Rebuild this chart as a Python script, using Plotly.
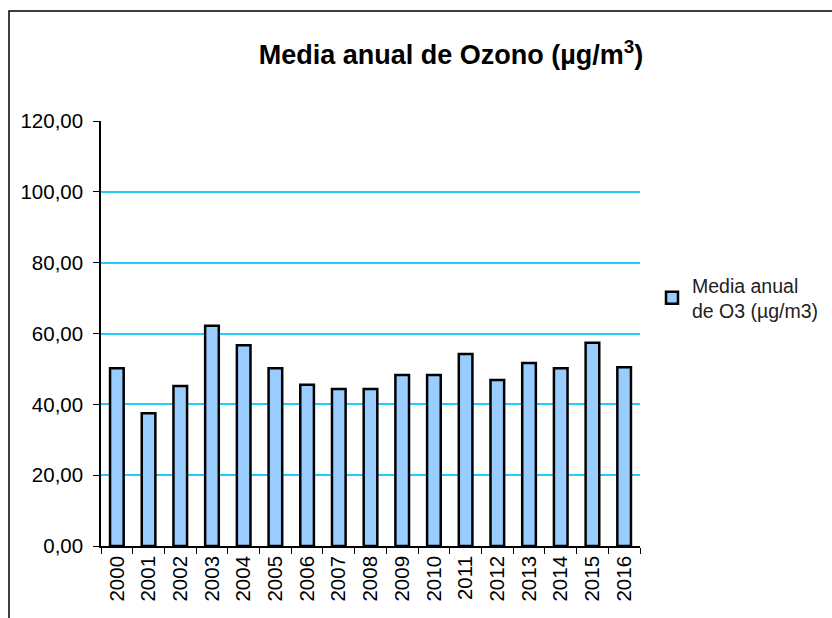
import plotly.graph_objects as go

years = ["2000", "2001", "2002", "2003", "2004", "2005", "2006", "2007", "2008",
         "2009", "2010", "2011", "2012", "2013", "2014", "2015", "2016"]
values = [50.2, 37.5, 45.2, 62.2, 56.7, 50.2, 45.5, 44.3, 44.3,
          48.3, 48.3, 54.2, 46.9, 51.7, 50.2, 57.4, 50.5]
series_name = "Media anual<br>de O3 (µg/m3)"
title_text = "<b>Media anual de Ozono (µg/m<sup>3</sup>)</b>"
y_ticks = [0, 20, 40, 60, 80, 100, 120]

W, H = 832, 618
L, R, T, B = 101, 640, 121, 546

fig = go.Figure()
fig.add_trace(go.Bar(
    x=years, y=values, name=series_name,
    marker=dict(color="#99CCFF", line=dict(color="black", width=2.5)),
    showlegend=True,
))

def px_x(p):
    return (p - L) / (R - L)

def px_y(p):
    return (B - p) / (B - T)

fig.update_layout(
    width=W, height=H,
    margin=dict(l=L, r=W - R, t=T, b=H - B, autoexpand=False),
    paper_bgcolor="white", plot_bgcolor="white",
    separators=",.",
    font=dict(family="Liberation Sans, Arial, sans-serif", color="black", size=20),
    title=dict(text=title_text, x=451 / W, y=1 - 55 / H, xref="container", yref="container",
               xanchor="center", yanchor="middle",
               font=dict(size=27, family="Liberation Sans, Arial, sans-serif", color="black")),
    bargap=0.57,
    showlegend=True,
    legend=dict(x=px_x(652), y=px_y(298), xanchor="left", yanchor="middle",
                font=dict(size=19.5, color="#222222"), itemwidth=30,
                bgcolor="rgba(0,0,0,0)", tracegroupgap=0),
    xaxis=dict(type="category", showline=True, linecolor="black", linewidth=1.5,
               ticks="outside", tickson="boundaries", ticklen=6, tickcolor="black",
               tickangle=-90, showgrid=False, tickfont=dict(size=20.5), fixedrange=True),
    yaxis=dict(range=[0, 120], tickvals=y_ticks, tickformat=".2f",
               showline=True, linecolor="black", linewidth=1.5,
               ticks="outside", ticklen=6, tickcolor="black", ticklabelstandoff=6,
               showgrid=True, gridcolor="#22CCFF", gridwidth=1.5, zeroline=False,
               tickfont=dict(size=20.5), fixedrange=True),
    shapes=[dict(type="rect", xref="paper", yref="paper",
                 x0=px_x(9), x1=px_x(W + 20), y0=px_y(H + 20), y1=px_y(11),
                 line=dict(color="black", width=1.5), fillcolor="rgba(0,0,0,0)", layer="below")],
)

fig.write_html("out.html", config={"displayModeBar": False},
               post_script="document.body.style.margin='0px';document.body.style.overflow='hidden';")
